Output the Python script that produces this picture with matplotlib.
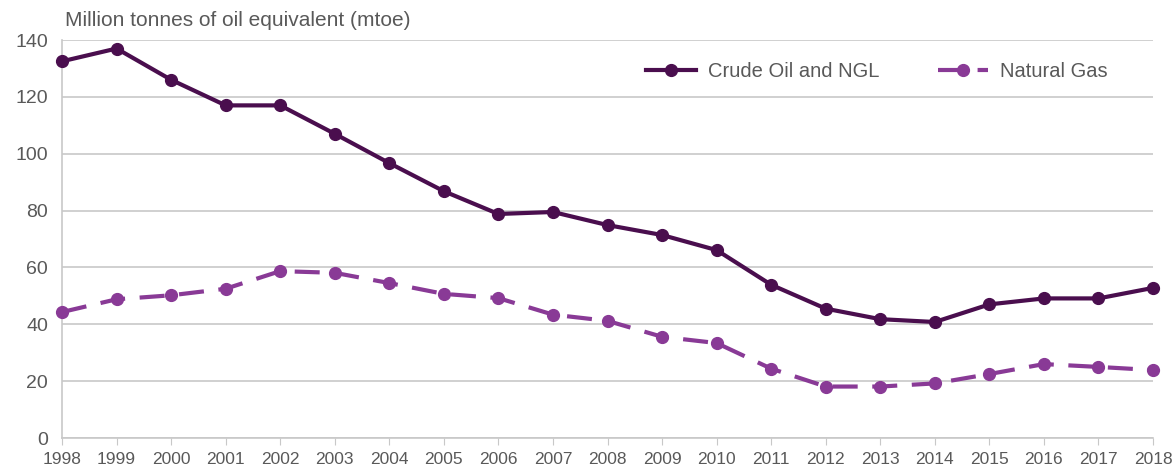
import matplotlib
matplotlib.use('Agg')
import matplotlib.pyplot as plt

# == data =====================================================================
years = list(range(1998, 2019))
crude_oil_ngl = [132.5, 137, 126, 117, 117, 107, 96.7, 86.8, 78.8, 79.5, 74.9,
                 71.4, 66.1, 53.9, 45.5, 41.8, 40.8, 47.0, 49.1, 49.1, 52.8]
natural_gas = [44.3, 48.8, 50.2, 52.5, 58.7, 58.1, 54.5, 50.7, 49.2, 43.4, 41.2,
               35.6, 33.4, 24.4, 18.1, 18.1, 19.2, 22.5, 26.0, 25.0, 23.9]
series_labels = ['Crude Oil and NGL', 'Natural Gas']
y_ticks = [0, 20, 40, 60, 80, 100, 120, 140]
# ============================================================================

OIL_COL = '#4a0e4e'
GAS_COL = '#893a96'
TXT_COL = '#595959'
GRID_COL = '#c8c8c8'

plt.rcParams['font.family'] = ['Liberation Sans', 'DejaVu Sans']

fig = plt.figure(figsize=(11.76, 4.69), dpi=100)
ax = fig.add_axes([62 / 1176, 1 - 438 / 469, 1091 / 1176, 398 / 469])

ax.plot(years, crude_oil_ngl, color=OIL_COL, lw=3, marker='o', ms=8.5,
        label=series_labels[0], clip_on=False, zorder=3)
ax.plot(years, natural_gas, color=GAS_COL, lw=3, marker='o', ms=8.5,
        dashes=(6, 3.5), label=series_labels[1], clip_on=False, zorder=3)

ax.set_xlim(years[0], years[-1])
ax.set_ylim(0, 140)
ax.set_xticks(years)
ax.set_yticks(y_ticks)
ax.tick_params(axis='x', colors=GRID_COL, labelcolor=TXT_COL, labelsize=12.5,
               length=5, direction='out', pad=5)
ax.tick_params(axis='y', length=0, labelcolor=TXT_COL, labelsize=14, pad=10)
ax.grid(axis='y', color=GRID_COL, lw=1.2)
ax.set_axisbelow(True)
for s in ['top', 'right']:
    ax.spines[s].set_visible(False)
for s in ['left', 'bottom']:
    ax.spines[s].set_color(GRID_COL)
    ax.spines[s].set_linewidth(1.2)

fig.text(65 / 1176, 1 - 20 / 469, 'Million tonnes of oil equivalent (mtoe)',
         fontsize=15, color=TXT_COL, va='center', ha='left')

ax.legend(loc='center left', bbox_to_anchor=(0.535, 0.92), ncol=2, frameon=False,
          fontsize=14.5, labelcolor=TXT_COL, handlelength=2.5, handletextpad=0.6,
          columnspacing=2.9, borderpad=0, borderaxespad=0)

plt.savefig('out.png', dpi=100)
